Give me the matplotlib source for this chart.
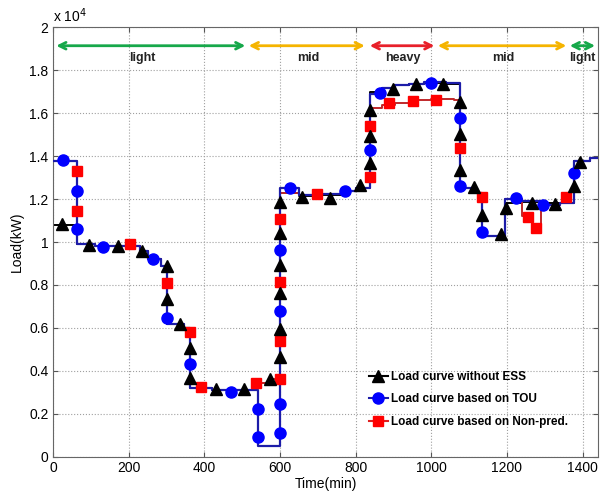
import matplotlib.pyplot as plt
from matplotlib.lines import Line2D
from matplotlib.ticker import FuncFormatter, MultipleLocator

plt.rcParams['font.family'] = ['Liberation Sans', 'DejaVu Sans']

# step curves (time in min, load in kW), drawn with where='post'
t_base = [0, 62, 110, 230, 250, 285, 302, 345, 361, 420, 530, 570, 600, 650, 700, 760, 800,
          838, 870, 905, 940, 980, 1040, 1076, 1120, 1135, 1195, 1240, 1290, 1340, 1376, 1420, 1440]
load_base = [10800, 9900, 9800, 9600, 9200, 8900, 6200, 6000, 3200, 3100, 3450, 3600, 12300,
             12150, 12200, 12400, 12500, 17000, 17200, 17300, 17350, 17400, 17350, 12500,
             12300, 10300, 11800, 11850, 11800, 11800, 13800, 13900, 13900]

t_tou = [0, 62, 110, 230, 250, 285, 302, 345, 361, 420, 542, 600, 650, 700, 760, 800,
         838, 870, 905, 940, 980, 1040, 1076, 1120, 1135, 1195, 1240, 1290, 1340, 1376, 1420, 1440]
load_tou = [13800, 9900, 9800, 9600, 9200, 8900, 6200, 6000, 3200, 3100, 500, 12500,
            12200, 12250, 12400, 12500, 16900, 17200, 17300, 17350, 17450, 17400, 12500,
            12300, 10300, 12000, 11900, 11750, 11800, 13800, 13900, 13900]

t_np = [0, 62, 110, 230, 250, 285, 302, 345, 361, 420, 530, 570, 600, 650, 700, 760, 800,
        838, 870, 905, 940, 1000, 1060, 1076, 1120, 1135, 1195, 1240, 1265, 1290, 1340, 1376, 1420, 1440]
load_np = [13800, 9900, 9800, 9600, 9200, 8900, 6200, 6000, 3200, 3100, 3450, 3600, 12300,
           12200, 12250, 12400, 12500, 16250, 16400, 16500, 16600, 16650, 16600, 12500,
           12300, 10300, 12000, 11200, 10600, 11750, 11800, 13800, 13900, 13900]

# marker points
mk_base_t = [24, 94, 171, 236, 300, 302, 335, 361, 361, 431, 504, 574, 600, 600, 600, 600, 600, 600,
             657, 732, 811, 838, 838, 838, 899, 960, 1030, 1076, 1076, 1076, 1112, 1135, 1184,
             1197, 1267, 1328, 1377, 1394]
mk_base_v = [10850, 9870, 9820, 9590, 8890, 7340, 6170, 5050, 3650, 3140, 3140, 3610, 4660, 5950,
             7620, 8940, 10410, 11860, 12120, 12050, 12670, 13680, 14920, 16160, 17130, 17370,
             17370, 16550, 15040, 13370, 12560, 11270, 10380, 11580, 11810, 11780, 12590, 13750]

mk_tou_t = [25, 62, 62, 131, 264, 302, 361, 469, 542, 542, 600, 600, 600, 600, 625, 771, 838,
            864, 998, 1076, 1076, 1135, 1223, 1296, 1376]
mk_tou_v = [13830, 12400, 10620, 9790, 9200, 6480, 4310, 3030, 2210, 900, 1120, 2460, 6810,
            9640, 12540, 12400, 14270, 16940, 17410, 15780, 12620, 10490, 12050, 11730, 13240]

mk_np_t = [62, 62, 203, 302, 361, 390, 535, 600, 600, 600, 600, 697, 838, 838, 887, 951, 1013,
           1076, 1135, 1256, 1276, 1357]
mk_np_v = [13290, 11470, 9920, 8110, 5830, 3250, 3450, 3610, 5410, 8130, 11080, 12230, 13020,
           15430, 16470, 16580, 16630, 14380, 12120, 11190, 10650, 12120]

# load periods on top
periods = ['light', 'mid', 'heavy', 'mid', 'light']
period_start = [8, 517, 837, 1017, 1366]
period_end = [508, 824, 1008, 1357, 1433]
period_colors = ['#16a84a', '#f5b400', '#e8202a', '#f5b400', '#16a84a']
period_text_t = [236, 675, 925, 1191, 1399]

fig = plt.figure(figsize=(6.05, 4.91), dpi=100)
ax = fig.add_axes([0.088, 0.07, 0.9, 0.874])

ax.step(t_base, load_base, where='post', color='black', lw=1.4, zorder=2)
ax.step(t_np, load_np, where='post', color='#c0282a', lw=1.4, zorder=3)
ax.step(t_tou, load_tou, where='post', color='#1c1ca8', lw=1.6, zorder=4)

ax.plot(mk_np_t, mk_np_v, 's', color='#ff0000', ms=7.5, mec='#ff0000', zorder=5)
ax.plot(mk_tou_t, mk_tou_v, 'o', color='#0000ff', ms=8, mec='#0000ff', zorder=6)
ax.plot(mk_base_t, mk_base_v, '^', color='black', ms=8, zorder=7)

for p, t0, t1, c, tt in zip(periods, period_start, period_end, period_colors, period_text_t):
    ax.annotate('', xy=(t1, 19150), xytext=(t0, 19150),
                arrowprops=dict(arrowstyle='<->', color=c, lw=2, mutation_scale=12,
                                shrinkA=0, shrinkB=0))
    ax.text(tt, 18600, p, ha='center', va='center', fontsize=9, fontweight='bold', color='#222222')

ax.set_xlim(0, 1440)
ax.set_ylim(0, 20000)
ax.xaxis.set_major_locator(MultipleLocator(200))
ax.yaxis.set_major_locator(MultipleLocator(2000))
ax.yaxis.set_major_formatter(FuncFormatter(lambda v, p: '%g' % round(v / 1e4, 1)))
ax.grid(True, ls=':', color='#a0a0a0', lw=0.8)
ax.tick_params(direction='in', top=True, right=True, labelsize=10, color='#555555')
for s in ax.spines.values():
    s.set_color('#666666')
ax.text(0, 1.012, 'x 10$^4$', transform=ax.transAxes, fontsize=10)
ax.set_xlabel('Time(min)', fontsize=10, labelpad=1)
ax.set_ylabel('Load(kW)', fontsize=10, labelpad=4)

handles = [Line2D([], [], color='black', marker='^', ms=8, lw=1.5),
           Line2D([], [], color='#1c1ca8', marker='o', ms=8, mfc='#0000ff', mec='#0000ff', lw=1.5),
           Line2D([], [], color='#e02020', marker='s', ms=7.5, mfc='#ff0000', mec='#ff0000', lw=1.5)]
labels = ['Load curve without ESS', 'Load curve based on TOU', 'Load curve based on Non-pred.']
ax.legend(handles, labels, loc='upper left', bbox_to_anchor=(0.56, 0.225), frameon=False,
          handlelength=1.6, handletextpad=0.3, labelspacing=0.9,
          prop={'weight': 'bold', 'size': 8.5})

fig.savefig('out.png', dpi=100)
